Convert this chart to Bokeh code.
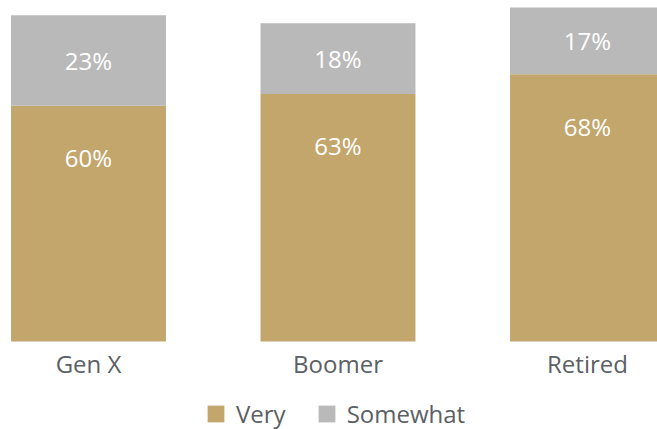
from bokeh.plotting import figure
from bokeh.models import ColumnDataSource, Range1d, Legend, LegendItem
from bokeh.core.properties import value
from bokeh.embed import file_html
from bokeh.resources import INLINE

categories = ["Gen X", "Boomer", "Retired"]
very = [60, 63, 68]
somewhat = [23, 18, 17]

GOLD = "#C3A66C"
GREY = "#B9B9B9"
TXT = "#5B6066"
FONT = "Open Sans"

xs = list(range(len(categories)))
src = ColumnDataSource(dict(
    x=xs,
    cat=categories,
    zero=[0] * len(categories),
    very=very,
    somewhat=somewhat,
    very_lbl=[f"{v}%" for v in very],
    some_lbl=[f"{s}%" for s in somewhat],
    some_mid=[v + s / 2 for v, s in zip(very, somewhat)],
))

p = figure(frame_width=657, frame_height=429, output_backend="svg", toolbar_location=None,
           x_range=Range1d(-0.3527, 2.2806), y_range=Range1d(-22.39, 86.77),
           min_border_left=0, min_border_right=0, min_border_top=0, min_border_bottom=0)
p.outline_line_color = None
p.grid.visible = False
p.axis.visible = False
p.background_fill_color = "white"
p.border_fill_color = "white"

r = p.vbar_stack(["very", "somewhat"], x="x", width=0.621, source=src,
                 color=[GOLD, GREY], line_color=None)

p.text(x="x", y="very", text="very_lbl", source=src, y_offset=52,
       text_align="center", text_baseline="middle", text_color="white",
       text_font=value(FONT), text_font_size="24px")
p.text(x="x", y="some_mid", text="some_lbl", source=src,
       text_align="center", text_baseline="middle", text_color="white",
       text_font=value(FONT), text_font_size="24px")

# category labels under the bars
p.text(x="x", y="zero", text="cat", source=src, y_offset=22,
       text_align="center", text_baseline="middle", text_color=TXT,
       text_font=value(FONT), text_font_size="24px")

legend = Legend(items=[LegendItem(label="Very", renderers=[r[0]]),
                       LegendItem(label="Somewhat", renderers=[r[1]])],
                orientation="horizontal", location=(205, -1),
                label_text_font=FONT, label_text_font_size="24px",
                label_text_color=TXT, glyph_width=21, glyph_height=21,
                label_standoff=10, spacing=30, padding=0, margin=0,
                border_line_color=None, background_fill_alpha=0)
p.add_layout(legend)

open("out.html", "w").write(file_html(p, INLINE))
